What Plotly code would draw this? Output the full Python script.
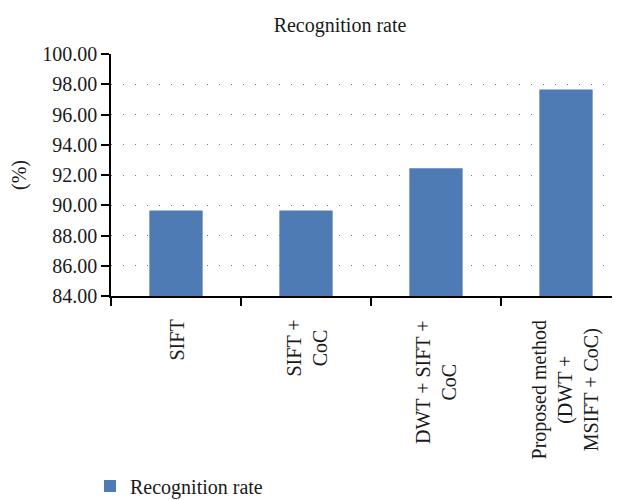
import plotly.graph_objects as go

categories = ["SIFT", "SIFT + CoC", "DWT + SIFT + CoC", "Proposed method (DWT + MSIFT + CoC)"]
tick_labels = ["SIFT", "SIFT +<br>CoC", "DWT + SIFT +<br>CoC", "Proposed method<br>(DWT +<br>MSIFT + CoC)"]
values = [89.65, 89.65, 92.45, 97.65]
series_name = "Recognition rate"
y_ticks = [84, 86, 88, 90, 92, 94, 96, 98, 100]

FONT = "Liberation Serif, Times New Roman, serif"
TXT = "#1a1a1a"

fig = go.Figure()
fig.add_trace(go.Bar(
    x=categories, y=values, name=series_name,
    marker=dict(color="#4e7bb4", line=dict(width=0)),
    width=0.41, showlegend=True,
))

for cat, lab in zip(categories, tick_labels):
    fig.add_annotation(
        x=cat, xref="x", y=0, yref="paper", yanchor="top", xanchor="center",
        yshift=-22, text=lab, textangle=-90, align="center", showarrow=False,
        font=dict(family=FONT, size=20, color=TXT),
    )

fig.update_layout(
    width=620, height=500,
    margin=dict(l=103, r=0, t=46, b=212),
    paper_bgcolor="white", plot_bgcolor="white",
    font=dict(family=FONT, size=20, color=TXT),
    title=dict(text="Recognition rate", x=332/620, xref="container", xanchor="center",
               y=1-17/500, yref="container", yanchor="middle",
               font=dict(family=FONT, size=20, color=TXT)),
    showlegend=True,
    legend=dict(orientation="h", xref="container", yref="container",
                x=82/620, xanchor="left", y=1-478/500, yanchor="middle",
                font=dict(family=FONT, size=20, color=TXT),
                bgcolor="rgba(0,0,0,0)"),
)

fig.update_xaxes(
    type="category", range=[-0.5, 3.477],
    showline=True, linecolor="black", linewidth=1.5,
    ticks="outside", tickson="boundaries", ticklen=8, tickcolor="black", tickwidth=1.5,
    showticklabels=False, showgrid=False,
)
fig.update_yaxes(
    range=[84, 100], tickvals=y_ticks, tickformat=".2f",
    showline=True, linecolor="black", linewidth=1.5,
    ticks="outside", ticklen=8, tickcolor="black", tickwidth=1.5,
    showgrid=True, gridcolor="#777777", gridwidth=1, griddash="1px,11px",
    zeroline=False,
    title=dict(text="(%)", standoff=10, font=dict(family=FONT, size=20, color=TXT)),
    tickfont=dict(family=FONT, size=20, color=TXT),
)

fig.write_html("out.html")
